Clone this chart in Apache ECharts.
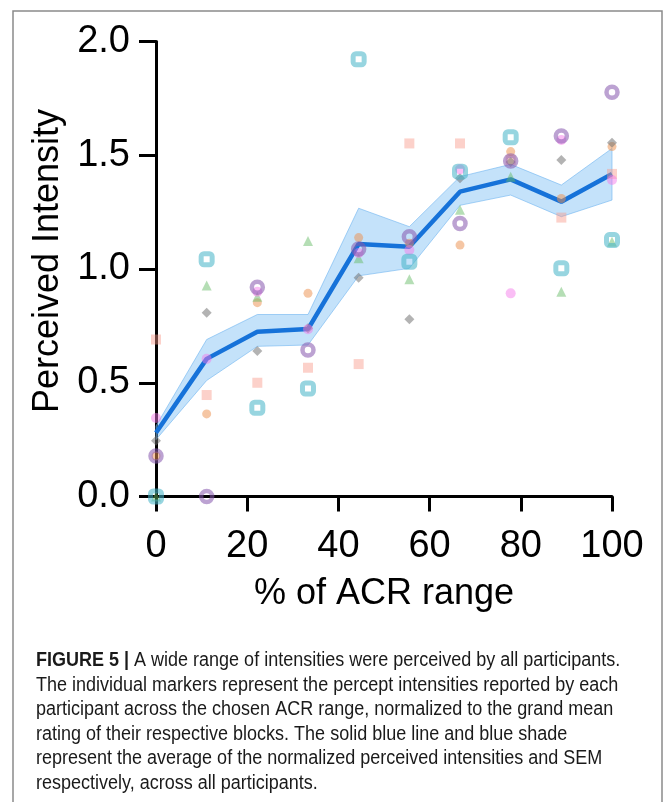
<!DOCTYPE html>
<html>
<head>
<meta charset="utf-8">
<script src="https://cdn.jsdelivr.net/npm/echarts@6/dist/echarts.min.js"></script>
<style>
html,body{margin:0;padding:0;background:#fff;}
#chart{width:663px;height:802px;}
</style>
</head>
<body>
<div id="chart"></div>
<script>
// ACR range positions (% of range)
const xs = [0, 11.11, 22.22, 33.33, 44.44, 55.56, 66.67, 77.78, 88.89, 100];
// Mean and SEM band
const meanVals  = [0.28, 0.605, 0.724, 0.736, 1.11, 1.098, 1.34, 1.394, 1.296, 1.418];
const upperVals = [0.31, 0.69, 0.80, 0.80, 1.267, 1.186, 1.406, 1.46, 1.369, 1.53];
const lowerVals = [0.25, 0.51, 0.66, 0.666, 0.97, 1.003, 1.28, 1.325, 1.23, 1.303];
// Individual participants
const p1Square   = [0.69, 0.446, 0.50, 0.566, 0.582, 1.552, 1.552, 1.48, 1.226, 1.418];
const p2Circle   = [0.178, 0.363, 0.852, 0.893, 1.138, 1.113, 1.105, 1.516, 1.31, 1.538];
const p3Triangle = [0.0, 0.927, 0.878, 1.123, 1.047, 0.955, 1.26, 1.406, 0.90, 1.12];
const p4Diamond  = [0.245, 0.808, 0.64, 0.74, 0.962, 0.779, 1.399, 1.47, 1.479, 1.555];
const p5Dot      = [0.345, 0.605, 0.90, 0.735, 1.07, 1.083, 1.438, 0.893, 1.567, 1.391];
const p6Ring     = [0.178, 0.0, 0.92, 0.644, 1.088, 1.142, 1.20, 1.475, 1.585, 1.777];
const p7OpenSq   = [0.0, 1.043, 0.39, 0.475, 1.922, 1.032, 1.428, 1.579, 1.003, 1.127];
// Tick labels
const yTicks = ['0.0', '0.5', '1.0', '1.5', '2.0'];
const xTicks = ['0', '20', '40', '60', '80', '100'];

const captionLines = [
  'The individual markers represent the percept intensities reported by each',
  'participant across the chosen ACR range, normalized to the grand mean',
  'rating of their respective blocks. The solid blue line and blue shade',
  'represent the average of the normalized perceived intensities and SEM',
  'respectively, across all participants.'
];

const pairs = v => xs.map((x, i) => [x, v[i]]);
const FONT = '"Liberation Sans", Arial, sans-serif';
const CAPFONT = '"Liberation Sans", Arial, sans-serif';

function scatter(name, vals, opt) {
  return Object.assign({
    name: name, type: 'scatter', data: pairs(vals), clip: false,
    emphasis: {disabled: true}
  }, opt);
}

const chart = echarts.init(document.getElementById('chart'), null, {renderer: 'canvas'});
const capGraphics = [
  {type: 'rect', shape: {x: 13, y: 11, width: 649, height: 820},
   style: {fill: 'none', stroke: '#8a8a8a', lineWidth: 1.5}, silent: true},
  {type: 'text', x: 36, y: 650, scaleX: 0.9, style: {
    text: '{b|FIGURE 5 | }{n|A wide range of intensities were perceived by all participants.}',
    rich: {
      b: {fontFamily: CAPFONT, fontWeight: 'bold', fontSize: 20, fill: '#1a1a1a'},
      n: {fontFamily: CAPFONT, fontSize: 20, fill: '#1a1a1a'}
    }}}
];
captionLines.forEach((t, i) => {
  capGraphics.push({type: 'text', x: 36, y: 675 + i * 24.6, scaleX: 0.9,
    style: {text: t, fontFamily: CAPFONT, fontSize: 20, fill: '#1a1a1a'}});
});

chart.setOption({
  animation: false,
  backgroundColor: '#fff',
  grid: {left: 156, right: 51, top: 41.5, bottom: 305.5, containLabel: false},
  xAxis: {
    type: 'value', min: 0, max: 100, interval: 20,
    name: '% of ACR range', nameLocation: 'middle', nameGap: 80,
    nameTextStyle: {fontFamily: FONT, fontSize: 36, color: '#000'},
    axisLine: {show: true, onZero: false, lineStyle: {color: '#000', width: 3}},
    axisTick: {show: true, length: 15, lineStyle: {color: '#000', width: 3}},
    axisLabel: {fontFamily: FONT, fontSize: 38, color: '#000', margin: 31,
      formatter: (v) => xTicks[Math.round(v / 20)]},
    splitLine: {show: false}
  },
  yAxis: {
    type: 'value', min: 0, max: 2, interval: 0.5,
    name: 'Perceived Intensity', nameLocation: 'middle', nameGap: 84, nameRotate: 90,
    nameTextStyle: {fontFamily: FONT, fontSize: 36, color: '#000', padding: [0, 0, 0, 16]},
    axisLine: {show: true, onZero: false, lineStyle: {color: '#000', width: 3}},
    axisTick: {show: true, length: 17, lineStyle: {color: '#000', width: 3}},
    axisLabel: {fontFamily: FONT, fontSize: 38, color: '#000', margin: 26,
      formatter: (v) => yTicks[Math.round(v / 0.5)]},
    splitLine: {show: false}
  },
  graphic: capGraphics,
  series: [
    {
      type: 'custom', name: 'SEM', silent: true, clip: false, z: 1,
      data: [[0, 0]],
      renderItem: function (params, api) {
        const pts = [];
        for (let i = 0; i < xs.length; i++) pts.push(api.coord([xs[i], upperVals[i]]));
        for (let i = xs.length - 1; i >= 0; i--) pts.push(api.coord([xs[i], lowerVals[i]]));
        return {type: 'polygon', shape: {points: pts},
          style: {fill: 'rgba(125,190,245,0.45)', stroke: 'rgba(110,180,240,0.6)', lineWidth: 1}};
      }
    },
    {
      type: 'line', name: 'Mean', data: pairs(meanVals), symbol: 'none', z: 2,
      lineStyle: {color: '#1672D9', width: 4.5}, silent: true
    },
    scatter('P1', p1Square, {symbol: 'rect', symbolSize: 10, z: 3,
      itemStyle: {color: 'rgba(248,150,135,0.55)'}}),
    scatter('P2', p2Circle, {symbol: 'circle', symbolSize: 9, z: 3,
      itemStyle: {color: 'rgba(236,145,80,0.65)'}}),
    scatter('P3', p3Triangle, {symbol: 'triangle', symbolSize: 10, z: 3,
      itemStyle: {color: 'rgba(100,185,100,0.6)'}}),
    scatter('P4', p4Diamond, {symbol: 'diamond', symbolSize: 10, z: 3,
      itemStyle: {color: 'rgba(110,110,110,0.65)'}}),
    scatter('P5', p5Dot, {symbol: 'circle', symbolSize: 10, z: 3,
      itemStyle: {color: 'rgba(245,120,235,0.6)'}}),
    scatter('P6', p6Ring, {symbol: 'circle', symbolSize: 11, z: 3,
      itemStyle: {color: 'rgba(0,0,0,0)', borderColor: 'rgba(135,90,175,0.7)', borderWidth: 4.5}}),
    scatter('P7', p7OpenSq, {symbol: 'roundRect', symbolSize: 11, z: 3,
      itemStyle: {color: 'rgba(0,0,0,0)', borderColor: 'rgba(70,180,200,0.7)', borderWidth: 5}})
  ]
});
</script>
</body>
</html>
